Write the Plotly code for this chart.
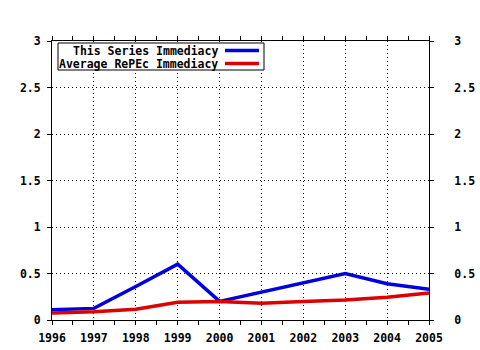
import plotly.graph_objects as go

years = [1996, 1997, 1998, 1999, 2000, 2001, 2002, 2003, 2004, 2005]
series_immediacy = [0.11, 0.125, 0.36, 0.60, 0.20, 0.30, 0.405, 0.50, 0.39, 0.33]
repec_immediacy = [0.075, 0.09, 0.115, 0.19, 0.20, 0.18, 0.20, 0.215, 0.245, 0.29]
series_names = ["This Series Immediacy", "Average RePEc Immediacy"]
series_colors = ["#0000dd", "#dd0000"]
y_ticks = [0, 0.5, 1, 1.5, 2, 2.5, 3]
y_labels = ["0", "0.5", "1", "1.5", "2", "2.5", "3"]

FAM = "DejaVu Sans Mono"
tick_font = dict(family=FAM, size=11.5, color="black", weight="bold")

fig = go.Figure()
fig.add_trace(go.Scatter(x=years, y=series_immediacy, mode="lines",
                         line=dict(color=series_colors[0], width=3.5),
                         name=series_names[0], showlegend=False))
fig.add_trace(go.Scatter(x=years, y=repec_immediacy, mode="lines",
                         line=dict(color=series_colors[1], width=3.5),
                         name=series_names[1], showlegend=False, yaxis="y2"))

axis_common = dict(showline=True, linecolor="black", linewidth=1,
                   ticks="outside", ticklen=4, tickcolor="black",
                   showgrid=True, gridcolor="black", griddash="1px,3px", gridwidth=1,
                   zeroline=False, tickfont=tick_font, automargin=False)

fig.update_layout(
    width=480, height=350,
    margin=dict(l=52, r=51, t=41, b=30),
    paper_bgcolor="white", plot_bgcolor="white",
    font=dict(family=FAM, size=11.5, color="black"),
    xaxis=dict(range=[1996, 2005], tickmode="array", tickvals=years,
               ticktext=[str(y) for y in years], mirror="allticks",
               ticklabelstandoff=3,
               minor=dict(dtick=0.5, ticks="outside", ticklen=2, tickcolor="black", showgrid=False),
               **axis_common),
    yaxis=dict(range=[0, 3], tickmode="array", tickvals=y_ticks, ticktext=y_labels,
               ticklabelstandoff=4, **axis_common),
    yaxis2=dict(range=[0, 3], tickmode="array", tickvals=y_ticks, ticktext=y_labels,
                overlaying="y", side="right", showline=True, linecolor="black",
                ticks="outside", ticklen=4, tickcolor="black", showgrid=False,
                ticklabelstandoff=18, automargin=False,
                zeroline=False, tickfont=tick_font),
)

# legend box (drawn manually, symbols on the right like the original)
px_w, px_h = 377.0, 279.0
def px(xp):
    return (xp - 52) / px_w
def py(yp):
    return (320 - yp) / px_h

fig.add_shape(type="rect", xref="paper", yref="paper",
              x0=px(58), x1=px(264), y0=py(70), y1=py(43),
              line=dict(color="black", width=1), fillcolor="white", layer="above")
for i, (name, color) in enumerate(zip(series_names, series_colors)):
    ly = 50.5 + 13 * i
    fig.add_annotation(xref="paper", yref="paper", x=px(219), y=py(ly),
                       text=name, showarrow=False, xanchor="right", yanchor="middle",
                       borderpad=0,
                       font=dict(family=FAM, size=11.5, color="black", weight="bold"))
    fig.add_shape(type="line", xref="paper", yref="paper",
                  x0=px(225), x1=px(259), y0=py(ly), y1=py(ly),
                  line=dict(color=color, width=3.5), layer="above")

fig.write_html("out.html")
